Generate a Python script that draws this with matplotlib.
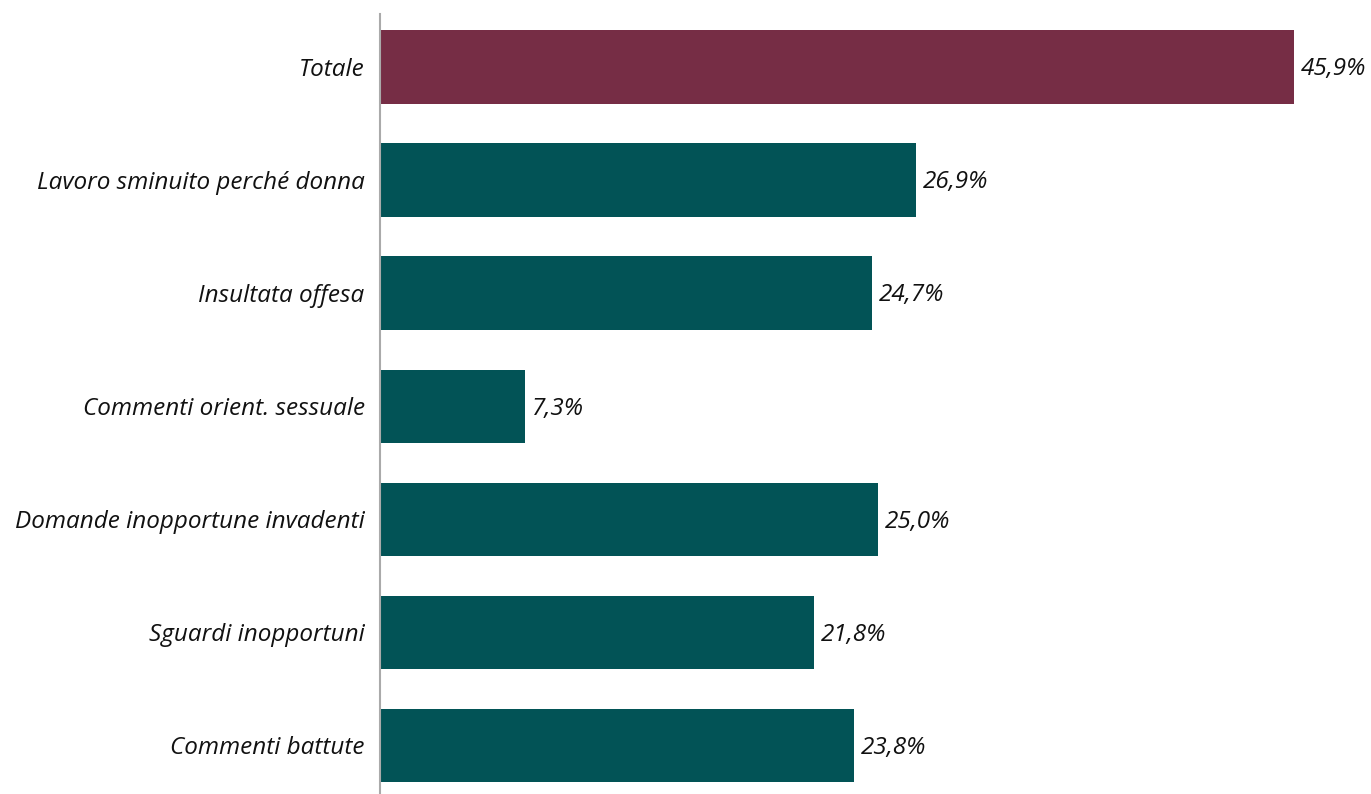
import matplotlib
matplotlib.use("Agg")
import matplotlib.pyplot as plt

categories = ["Totale", "Lavoro sminuito perché donna", "Insultata offesa",
              "Commenti orient. sessuale", "Domande inopportune invadenti",
              "Sguardi inopportuni", "Commenti battute"]
values = [45.9, 26.9, 24.7, 7.3, 25.0, 21.8, 23.8]
colors = ["#762d45"] + ["#025356"] * 6

plt.rcParams['font.family'] = ['Open Sans', 'DejaVu Sans']

fig = plt.figure(figsize=(13.71, 7.94), dpi=100)
ax = fig.add_axes([380 / 1371, 0, 991 / 1371, 780 / 794])

pos = list(range(len(categories)))
ax.barh(pos, values, height=0.65, color=colors)
for y, v in zip(pos, values):
    ax.text(v + 0.35, y + 0.02, f"{v:.1f}%".replace(".", ","), va="center", ha="left",
            fontsize=17.5, style="italic", color="#111111")

ax.set_xlim(0, 991 / 19.91)
ax.set_ylim(6.43, -0.47)
ax.set_yticks(pos)
ax.set_yticklabels(categories, fontsize=17.5, style="italic", color="#111111")
ax.tick_params(axis="y", length=0, pad=11)
ax.set_xticks([])
for s in ["top", "right", "bottom"]:
    ax.spines[s].set_visible(False)
ax.spines["left"].set_color("#aaaaaa")
ax.spines["left"].set_linewidth(1.5)

fig.savefig("out.png", dpi=100)
